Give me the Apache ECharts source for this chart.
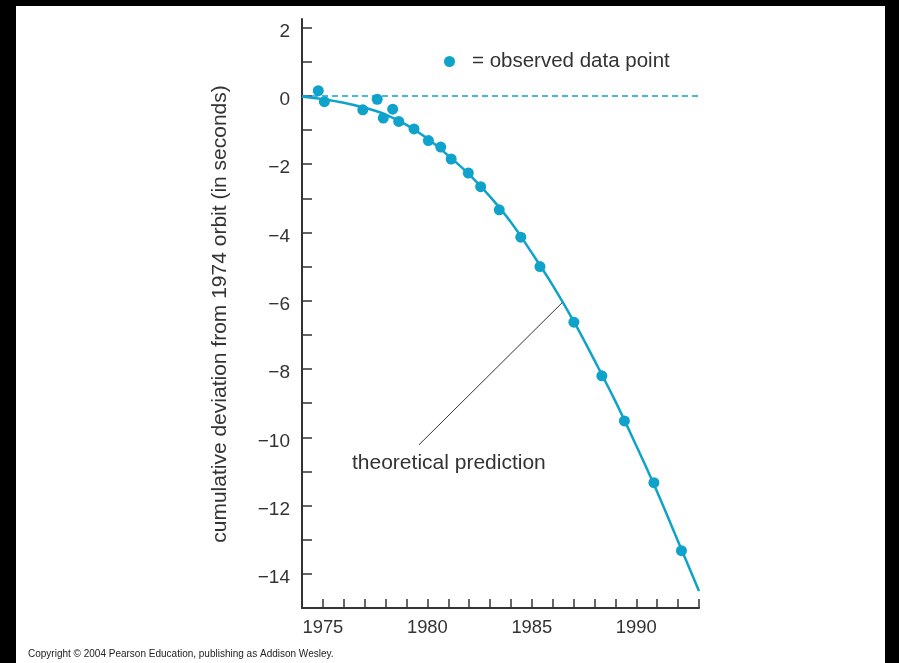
<!DOCTYPE html>
<html>
<head>
<meta charset="utf-8">
<script src="https://cdn.jsdelivr.net/npm/echarts@6/dist/echarts.min.js"></script>
<style>
html,body{margin:0;padding:0;background:#fff;}
#chart{width:899px;height:663px;}
</style>
</head>
<body>
<div id="chart"></div>
<script>
// ---- data ----
const obsYears = [1974.78, 1975.07, 1976.91, 1977.60, 1977.89, 1978.34, 1978.63, 1979.36, 1980.05, 1980.64, 1981.14, 1981.96, 1982.55, 1983.44, 1984.47, 1985.39, 1987.01, 1988.35, 1989.43, 1990.84, 1992.16];
const obsValues = [0.15, -0.17, -0.41, -0.10, -0.65, -0.39, -0.75, -0.97, -1.31, -1.50, -1.85, -2.26, -2.66, -3.34, -4.14, -5.00, -6.63, -8.20, -9.52, -11.33, -13.32];
const curveYears = [1974, 1975, 1976, 1977, 1978, 1979, 1980, 1981, 1982, 1983, 1984, 1985, 1986, 1987, 1988, 1989, 1990, 1991, 1992, 1993];
const curveValues = [-0.03, -0.1, -0.2, -0.35, -0.55, -0.85, -1.25, -1.75, -2.3, -2.95, -3.7, -4.6, -5.55, -6.6, -7.75, -8.95, -10.25, -11.6, -13.05, -14.5];
const xTickValues = [1975, 1976, 1977, 1978, 1979, 1980, 1981, 1982, 1983, 1984, 1985, 1986, 1987, 1988, 1989, 1990, 1991, 1992, 1993];
const xLabelValues = [1975, 1980, 1985, 1990];
const yTickValues = [-14, -13, -12, -11, -10, -9, -8, -7, -6, -5, -4, -3, -2, -1, 0, 1, 2];
const yLabelValues = [-14, -12, -10, -8, -6, -4, -2, 0, 2];
const leaderStart = [1979.6, -10.22];
const leaderEnd = [1986.45, -6.06];

const CYAN = '#0fa2cb';
const INK = '#333';
const FONT = 'Liberation Sans, Arial, sans-serif';

const chart = echarts.init(document.getElementById('chart'));
chart.setOption({
  backgroundColor: '#fff',
  animation: false,
  grid: {left: 302, right: 200, top: 19, bottom: 55, containLabel: false, outerBoundsMode: 'none'},
  legend: {
    data: [{name: 'observed', icon: 'circle'}],
    left: 439, top: 46,
    itemWidth: 11, itemHeight: 11,
    formatter: () => '= observed data point',
    textStyle: {fontSize: 20.5, color: INK, fontFamily: FONT, padding: [0, 0, 0, 12]},
    selectedMode: false
  },
  xAxis: {
    type: 'value', min: 1974, max: 1993, interval: 1,
    axisLine: {show: true, onZero: false, lineStyle: {color: INK, width: 2}},
    axisTick: {show: true, inside: true, length: 9, customValues: xTickValues, lineStyle: {color: INK, width: 1.5}},
    axisLabel: {customValues: xLabelValues, fontSize: 18.4, color: INK, fontFamily: FONT, margin: 11, formatter: v => String(v)},
    splitLine: {show: false}
  },
  yAxis: {
    type: 'value', min: -15, max: 2.25,
    axisLine: {show: true, onZero: false, lineStyle: {color: INK, width: 2}},
    axisTick: {show: true, inside: true, length: 10, customValues: yTickValues, lineStyle: {color: INK, width: 1.5}},
    axisLabel: {customValues: yLabelValues, fontSize: 19, color: INK, fontFamily: FONT, margin: 12,
      verticalAlign: 'top', lineHeight: 8,
      formatter: v => (v < 0 ? '\u2212' + Math.abs(v) : String(v))},
    splitLine: {show: false}
  },
  series: [
    {
      name: 'theory', type: 'line', smooth: 0.4, showSymbol: false, z: 2,
      data: curveYears.map((y, i) => [y, curveValues[i]]),
      lineStyle: {color: CYAN, width: 2.5},
      itemStyle: {color: CYAN},
      markLine: {
        silent: true, symbol: 'none', animation: false,
        label: {show: false},
        lineStyle: {color: INK, width: 1, type: 'solid'},
        data: [[{coord: leaderStart}, {coord: leaderEnd}]]
      }
    },
    {
      name: 'observed', type: 'scatter', symbolSize: 11, z: 3,
      data: obsYears.map((y, i) => [y, obsValues[i]]),
      itemStyle: {color: CYAN, opacity: 1},
      markLine: {
        silent: true, symbol: 'none', animation: false,
        label: {show: false},
        lineStyle: {color: CYAN, width: 1.5, type: [6, 4]},
        data: [{yAxis: 0}]
      }
    }
  ],
  graphic: [
    {type: 'text', x: 220, y: 314, rotation: Math.PI / 2,
      style: {text: 'cumulative deviation from 1974 orbit (in seconds)', fontSize: 21, fill: INK, fontFamily: FONT, align: 'center', verticalAlign: 'middle'}},
    {type: 'text', x: 352, y: 463,
      style: {text: 'theoretical prediction', fontSize: 21, fill: INK, fontFamily: FONT, align: 'left', verticalAlign: 'middle'}},
    {type: 'text', x: 28, y: 654,
      style: {text: 'Copyright \u00a9 2004 Pearson Education, publishing as Addison Wesley.', fontSize: 10, fill: '#222', fontFamily: FONT, align: 'left', verticalAlign: 'middle'}},
    {type: 'rect', shape: {x: 0, y: 0, width: 16, height: 663}, style: {fill: '#000'}, z: 100},
    {type: 'rect', shape: {x: 0, y: 0, width: 899, height: 6}, style: {fill: '#000'}, z: 100},
    {type: 'rect', shape: {x: 885, y: 0, width: 14, height: 663}, style: {fill: '#000'}, z: 100}
  ]
});
</script>
</body>
</html>
